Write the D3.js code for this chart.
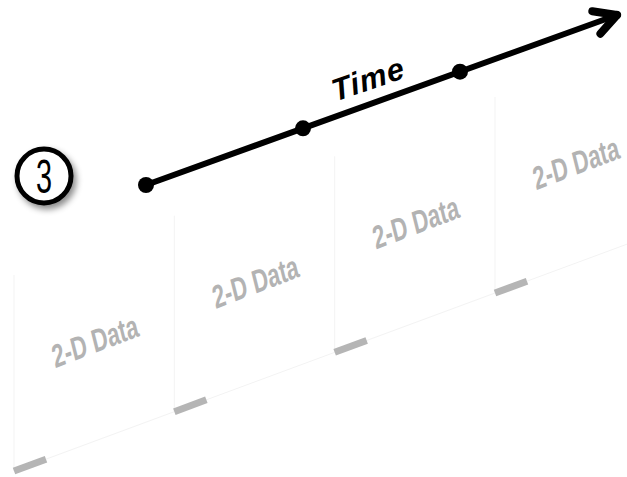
<!DOCTYPE html>
<html>
<head>
<meta charset="utf-8">
<script src="https://cdn.jsdelivr.net/npm/d3@7"></script>
<style>
  body { margin: 0; background: #fff; }
  svg { display: block; }
</style>
</head>
<body>
<div class="chart"></div>
<script>
// time steps along the arrow, and the 2-D slices hanging below them
const timeDots = [0, 1, 2];
const arrowEnd = 3;
const slices = [0, 1, 2, 3];
const sliceLabels = ["2-D Data", "2-D Data", "2-D Data", "2-D Data"];
const stepLabel = "3";
const axisLabel = "Time";

const w = 627, h = 477;

const svg = d3.select(".chart").append("svg")
  .attr("width", w)
  .attr("height", h);

const defs = svg.append("defs");
const shadow = defs.append("filter").attr("id", "shadow")
  .attr("x", "-30%").attr("y", "-30%").attr("width", "160%").attr("height", "160%");
shadow.append("feDropShadow")
  .attr("dx", 3).attr("dy", 4).attr("stdDeviation", 3)
  .attr("flood-color", "#000").attr("flood-opacity", 0.45);

// scales along the time arrow
const tx = d3.scaleLinear().domain([0, 3]).range([146, 617]);
const ty = d3.scaleLinear().domain([0, 3]).range([185, 15]);

// scales for the slice corners (bottom-left)
const sx = d3.scaleLinear().domain([0, 3]).range([14, 495]);
const sy = d3.scaleLinear().domain([0, 3]).range([471, 293]);
const panelH = 196;

// slices
const panel = svg.selectAll("g.slice")
  .data(slices)
  .enter()
  .append("g")
  .attr("class", "slice");

panel.append("path")
  .attr("d", d => {
    const x0 = sx(d), y0 = sy(d);
    const x1 = sx(d + 1), y1 = sy(d + 1);
    return `M${x0},${y0 - panelH}L${x0},${y0}L${x1},${y1}`;
  })
  .attr("fill", "none")
  .attr("stroke", "#f3f3f3")
  .attr("stroke-width", 1);

panel.append("line")
  .attr("x1", d => sx(d))
  .attr("y1", d => sy(d))
  .attr("x2", d => sx(d) + 32)
  .attr("y2", d => sy(d) + (sy(d + 1) - sy(d)) * 32 / (sx(d + 1) - sx(d)))
  .attr("stroke", "#b5b5b5")
  .attr("stroke-width", 7);

panel.append("text")
  .attr("transform", d => `translate(${sx(d) + 81},${sy(d) - 130}) rotate(-21) skewX(-7) scale(0.7,1)`)
  .attr("text-anchor", "middle")
  .attr("dy", "0.35em")
  .attr("font-family", "'Liberation Sans', Arial, sans-serif")
  .attr("font-weight", "bold")
  .attr("font-size", 32)
  .attr("fill", "#b3b3b3")
  .text((d, i) => sliceLabels[i]);

// time arrow
const arrow = svg.append("g");
const ang = Math.atan2(ty(arrowEnd) - ty(0), tx(arrowEnd) - tx(0));

arrow.append("line")
  .attr("x1", tx(0)).attr("y1", ty(0))
  .attr("x2", tx(arrowEnd)).attr("y2", ty(arrowEnd))
  .attr("stroke", "#000")
  .attr("stroke-width", 6)
  .attr("stroke-linecap", "round");

[-0.5, 0.5].forEach(a => {
  const back = ang + Math.PI + a;
  arrow.append("line")
    .attr("x1", tx(arrowEnd)).attr("y1", ty(arrowEnd))
    .attr("x2", tx(arrowEnd) + 25 * Math.cos(back))
    .attr("y2", ty(arrowEnd) + 25 * Math.sin(back))
    .attr("stroke", "#000")
    .attr("stroke-width", 8)
    .attr("stroke-linecap", "round");
});

arrow.selectAll("circle")
  .data(timeDots)
  .enter()
  .append("circle")
  .attr("cx", d => tx(d))
  .attr("cy", d => ty(d))
  .attr("r", 8)
  .attr("fill", "#000");

arrow.append("text")
  .attr("transform", `translate(368,79) rotate(-19) skewX(-4)`)
  .attr("text-anchor", "middle")
  .attr("dy", "0.35em")
  .attr("font-family", "'Liberation Sans', Arial, sans-serif")
  .attr("font-weight", "bold")
  .attr("font-style", "italic")
  .attr("font-size", 31)
  .attr("letter-spacing", 1)
  .attr("fill", "#000")
  .text(axisLabel);

// step number
const badge = svg.append("g").attr("transform", "translate(44,176)");
badge.append("circle")
  .attr("r", 27)
  .attr("fill", "#fff")
  .attr("stroke", "#000")
  .attr("stroke-width", 5)
  .attr("filter", "url(#shadow)");
badge.append("text")
  .attr("transform", "scale(0.6,1)")
  .attr("text-anchor", "middle")
  .attr("dy", "0.36em")
  .attr("font-family", "'Liberation Sans', Arial, sans-serif")
  .attr("font-size", 48)
  .attr("fill", "#000")
  .text(stepLabel);
</script>
</body>
</html>
